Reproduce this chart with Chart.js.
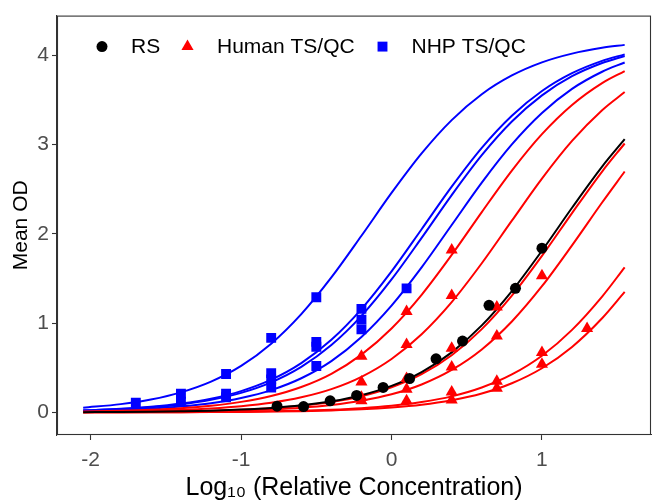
<!DOCTYPE html>
<html>
<head>
<meta charset="utf-8">
<script src="https://cdn.jsdelivr.net/npm/chart.js@4.4.1/dist/chart.umd.min.js"></script>
<style>
  html, body { margin: 0; padding: 0; background: #ffffff; }
  #wrap { width: 658px; height: 503px; }
</style>
</head>
<body>
<div id="wrap"><canvas id="c" width="658" height="503"></canvas></div>
<script>
// ---- tick labels ----
const X_TICKS = [-2, -1, 0, 1];
const Y_TICKS = [0, 1, 2, 3, 4];

// ---- fitted curves at these x positions ----
const CURVE_X = [-2.05, -1.8, -1.6, -1.4, -1.2, -1.0, -0.8, -0.6, -0.4, -0.2, 0.0, 0.2, 0.4, 0.6, 0.8, 1.0, 1.2, 1.4, 1.55];

const NHP_CURVE_1 = [0.053, 0.093, 0.145, 0.225, 0.345, 0.521, 0.770, 1.101, 1.512, 1.979, 2.459, 2.902, 3.275, 3.565, 3.775, 3.922, 4.020, 4.085, 4.118];
const NHP_CURVE_2 = [0.023, 0.040, 0.063, 0.099, 0.154, 0.239, 0.367, 0.553, 0.814, 1.158, 1.580, 2.052, 2.529, 2.964, 3.324, 3.601, 3.801, 3.939, 4.012];
const NHP_CURVE_3 = [0.021, 0.037, 0.058, 0.090, 0.141, 0.219, 0.337, 0.510, 0.755, 1.082, 1.490, 1.955, 2.435, 2.882, 3.259, 3.552, 3.767, 3.915, 3.994];
const NHP_CURVE_4 = [0.015, 0.027, 0.042, 0.066, 0.103, 0.162, 0.250, 0.383, 0.575, 0.845, 1.197, 1.625, 2.100, 2.575, 3.003, 3.355, 3.625, 3.817, 3.921];

const HUMAN_CURVE_1 = [0.011, 0.019, 0.030, 0.048, 0.075, 0.118, 0.184, 0.285, 0.433, 0.648, 0.941, 1.318, 1.765, 2.245, 2.710, 3.118, 3.445, 3.690, 3.825];
const HUMAN_CURVE_2 = [0.006, 0.011, 0.018, 0.028, 0.044, 0.069, 0.108, 0.169, 0.261, 0.399, 0.599, 0.876, 1.236, 1.671, 2.148, 2.620, 3.042, 3.386, 3.589];
const HUMAN_CURVE_3 = [0.003, 0.005, 0.008, 0.012, 0.019, 0.030, 0.047, 0.075, 0.117, 0.182, 0.282, 0.429, 0.641, 0.933, 1.308, 1.753, 2.233, 2.699, 3.013];
const HUMAN_CURVE_4 = [0.002, 0.003, 0.005, 0.009, 0.014, 0.021, 0.034, 0.053, 0.084, 0.131, 0.203, 0.313, 0.476, 0.706, 1.019, 1.414, 1.872, 2.352, 2.699];
const HUMAN_CURVE_5 = [0.001, 0.001, 0.002, 0.003, 0.005, 0.008, 0.012, 0.019, 0.030, 0.047, 0.074, 0.116, 0.180, 0.279, 0.425, 0.635, 0.925, 1.298, 1.625];
const HUMAN_CURVE_6 = [0.001, 0.001, 0.001, 0.002, 0.004, 0.006, 0.009, 0.014, 0.022, 0.035, 0.056, 0.087, 0.137, 0.212, 0.327, 0.495, 0.734, 1.055, 1.350];

const RS_CURVE = [0.003, 0.005, 0.008, 0.013, 0.020, 0.032, 0.050, 0.079, 0.124, 0.193, 0.297, 0.452, 0.673, 0.975, 1.360, 1.812, 2.293, 2.754, 3.061];

// ---- observed points ----
const RS_X = [-0.761, -0.585, -0.408, -0.232, -0.056, 0.12, 0.296, 0.472, 0.648, 0.824, 1.0];
const RS_Y = [0.07, 0.065, 0.13, 0.19, 0.28, 0.38, 0.60, 0.80, 1.20, 1.39, 1.84];

const HUMAN_X = [-0.2, 0.1, 0.4,  -0.2, 0.1, 0.4,  -0.2, 0.1, 0.4, 0.7,  -0.2, 0.1, 0.4, 0.7, 1.0,  0.1, 0.4, 0.7, 1.0,  0.4, 0.7, 1.0, 1.3];
const HUMAN_Y = [0.63, 1.13, 1.82, 0.34, 0.76, 1.31, 0.17, 0.38, 0.72, 1.18, 0.13, 0.26, 0.51, 0.855, 1.53, 0.13, 0.23, 0.35, 0.67, 0.14, 0.27, 0.54, 0.94];

const NHP_X = [-1.7, -1.4, -1.4, -1.1, -1.1, -1.1, -0.8, -0.8, -0.8, -0.8, -0.5, -0.5, -0.5, -0.5, -0.2, -0.2, -0.2, 0.1];
const NHP_Y = [0.11, 0.21, 0.12, 0.43, 0.21, 0.17, 0.835, 0.44, 0.37, 0.28, 1.29, 0.79, 0.735, 0.52, 1.16, 1.04, 0.93, 1.39];

// ---- build datasets ----
const FONT = '"Liberation Sans", Arial, Helvetica, sans-serif';
const BLUE = '#0000FF', RED = '#FF0000', BLACK = '#000000';

function curve(arr, color) {
  return {
    data: CURVE_X.map((x, i) => ({ x: x, y: arr[i] })),
    showLine: true,
    borderColor: color,
    borderWidth: 2,
    pointRadius: 0,
    pointHoverRadius: 0,
    cubicInterpolationMode: 'monotone',
    fill: false
  };
}
function points(xs, ys, color, style, r) {
  return {
    data: xs.map((x, i) => ({ x: x, y: ys[i] })),
    showLine: false,
    backgroundColor: color,
    borderColor: color,
    borderWidth: 0,
    pointStyle: style,
    pointRadius: r,
    pointHoverRadius: r
  };
}

// index 0 is drawn on top
const datasets = [
  points(RS_X, RS_Y, BLACK, 'circle', 5.5),
  points(HUMAN_X, HUMAN_Y, RED, 'triangle', 7),
  points(NHP_X, NHP_Y, BLUE, 'rect', 7),
  curve(RS_CURVE, BLACK),
  curve(HUMAN_CURVE_1, RED),
  curve(HUMAN_CURVE_2, RED),
  curve(HUMAN_CURVE_3, RED),
  curve(HUMAN_CURVE_4, RED),
  curve(HUMAN_CURVE_5, RED),
  curve(HUMAN_CURVE_6, RED),
  curve(NHP_CURVE_1, BLUE),
  curve(NHP_CURVE_2, BLUE),
  curve(NHP_CURVE_3, BLUE),
  curve(NHP_CURVE_4, BLUE)
];

const LEGEND_ITEMS = [
  { label: 'RS', color: BLACK, style: 'circle', r: 5.5 },
  { label: 'Human TS/QC', color: RED, style: 'triangle', r: 7 },
  { label: 'NHP TS/QC', color: BLUE, style: 'rect', r: 7 }
];

const panelLegend = {
  id: 'panelLegend',
  afterDraw(chart) {
    const ctx = chart.ctx;
    const a = chart.chartArea;
    ctx.save();
    // panel border
    ctx.strokeStyle = '#333333';
    ctx.lineWidth = 1.1;
    ctx.strokeRect(a.left + 0.5, a.top + 0.5, a.right - a.left - 1, a.bottom - a.top - 1);
    // legend inside panel
    const markerX = [102, 187.5, 382.5];
    const textX = [131, 217, 411.5];
    const cy = a.top + 31;
    ctx.font = '21px ' + FONT;
    ctx.textBaseline = 'middle';
    ctx.textAlign = 'left';
    LEGEND_ITEMS.forEach((it, i) => {
      ctx.fillStyle = it.color;
      ctx.strokeStyle = it.color;
      Chart.helpers.drawPoint(ctx, { pointStyle: it.style, radius: it.r, borderWidth: 0, rotation: 0 }, markerX[i], cy);
      ctx.fillStyle = '#000000';
      ctx.fillText(it.label, textX[i], cy + 1);
    });
    ctx.restore();
  }
};

new Chart(document.getElementById('c'), {
  type: 'scatter',
  data: { datasets: datasets },
  plugins: [panelLegend],
  options: {
    responsive: false,
    animation: false,
    devicePixelRatio: 1,
    layout: { padding: { top: 3, right: 2, left: 0, bottom: 0 } },
    plugins: { legend: { display: false }, tooltip: { enabled: false } },
    scales: {
      x: {
        type: 'linear',
        min: -2.224, max: 1.725,
        afterBuildTicks(scale) { scale.ticks = X_TICKS.map(v => ({ value: v })); },
        afterFit(scale) { scale.height = 68; },
        grid: { display: true, drawOnChartArea: false, drawTicks: true, tickLength: 5, tickColor: '#333333', tickWidth: 1.1 },
        border: { display: true, color: '#333333', width: 1.1 },
        ticks: { color: '#4D4D4D', font: { family: FONT, size: 21 }, padding: 8, maxRotation: 0 },
        title: { display: true, text: 'Log\u2081\u2080 (Relative Concentration)', color: '#000000',
                 font: { family: FONT, size: 25 }, padding: { top: 0, bottom: 0 } }
      },
      y: {
        type: 'linear',
        min: -0.253, max: 4.446,
        afterBuildTicks(scale) { scale.ticks = Y_TICKS.map(v => ({ value: v })); },
        afterFit(scale) { scale.width = 57; },
        grid: { display: true, drawOnChartArea: false, drawTicks: true, tickLength: 5, tickColor: '#333333', tickWidth: 1.1 },
        border: { display: true, color: '#333333', width: 1.1 },
        ticks: { color: '#4D4D4D', font: { family: FONT, size: 21 }, padding: 3 },
        title: { display: true, text: 'Mean OD', color: '#000000',
                 font: { family: FONT, size: 21 }, padding: { top: 9, bottom: 0 } }
      }
    }
  }
});
</script>
</body>
</html>
